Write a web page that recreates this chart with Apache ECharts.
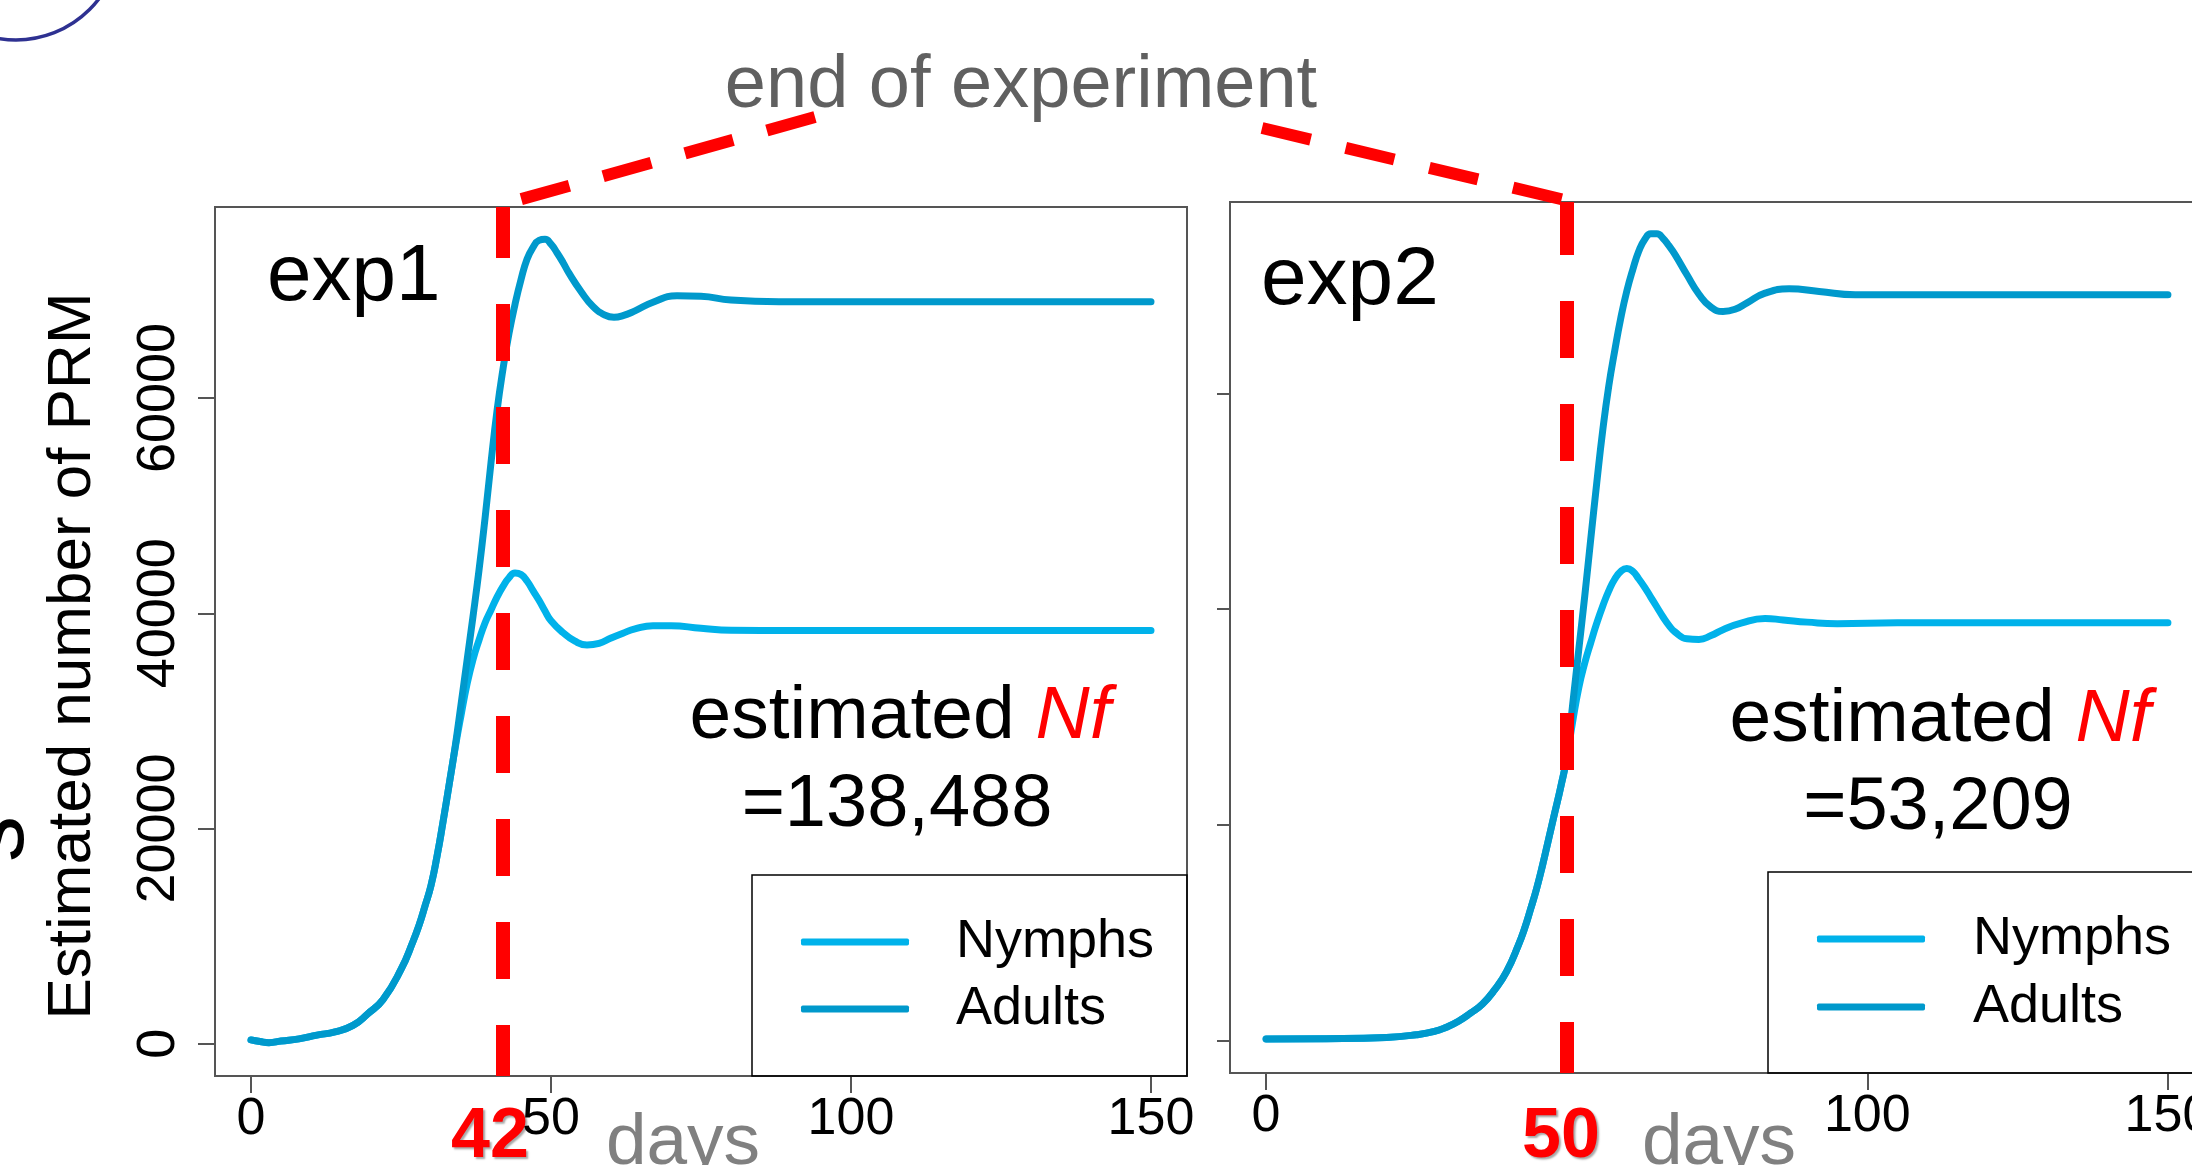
<!doctype html>
<html>
<head>
<meta charset="utf-8">
<script src="https://cdn.jsdelivr.net/npm/echarts@6/dist/echarts.min.js"></script>
<style>
  html, body { margin:0; padding:0; background:#fff; }
  #main { width:2192px; height:1165px; }
</style>
</head>
<body>
<div id="main"></div>
<script>
var FONT = '"Liberation Sans", Arial, Helvetica, sans-serif';

// [day, estimated number]
var exp1Nymphs = [[0,350],[1.5,200],[3,100],[5,250],[8,450],[11,800],[14,1100],[17,1700],[19.5,2800],[22,4100],[25,6900],[27,9500],[28,11000],[29,12800],[30,14700],[31,17400],[32,20600],[33,24000],
  [34,27400],[35,30500],[36,33400],[37,35700],[38,37500],[39,39100],[40,40300],[41,41500],[42,42500],[43,43300],[44,43750],[45,43600],[46,43000],[47,42100],[48,41200],[49,40200],[50,39300],[52,38200],[54,37400],[56,37050],[58,37200],[60,37700],[62,38150],[64,38550],[67,38850],[70,38850],[75,38600],[80,38420],[90,38400],[150,38400]];
var exp1Adults = [[0,350],[1.5,200],[3,100],[5,250],[8,450],[11,800],[14,1100],[17,1700],[19.5,2800],[22,4100],[25,6900],[27,9500],[28,11000],[29,12800],[30,14700],[31,17400],[32,20600],[33,24000],
  [34,27500],[35,31500],[36,35600],[37,39700],[38,44000],[39,48800],[40,54000],[41,58800],[42,62700],[43,66000],[44,68700],[45,71000],[46,72900],[47,74000],[48,74650],[49,74750],[50,74300],[51,73500],[52,72600],[53,71600],[55,69900],[57,68500],[59,67700],[60.5,67500],[62,67650],[64,68100],[67,68900],[71,69500],[75,69450],[80,69100],[88,68950],[100,68950],[150,68950]];
var exp2Nymphs = [[0,150],[10,180],[20,300],[25,550],[28,850],[30,1250],[32,1800],[34,2550],[36,3400],[38,4700],[40,6400],[42,8900],[43,10400],[44,12200],[45,14100],[46,16300],[47,18700],[48,21100],[49,23500],[50,26200],
  [51,29600],[52,32700],[53,35000],[54,36900],[55,38700],[56,40300],[57,41700],[58,42800],[59,43500],[60,43780],[61,43500],[62,42800],[63,42000],[64,41100],[65,40200],[66,39300],[67,38500],[68,37900],[70,37250],[72,37200],[74,37550],[76,38100],[79,38700],[83,39140],[86,39000],[90,38800],[95,38650],[105,38740],[150,38740]];
var exp2Adults = [[0,150],[10,180],[20,300],[25,550],[28,850],[30,1250],[32,1800],[34,2550],[36,3400],[38,4700],[40,6400],[42,8900],[43,10400],[44,12200],[45,14100],[46,16300],[47,18700],[48,21100],[49,23500],[50,26200],
  [51,31200],[52,36200],[53,41200],[54,46500],[55,51700],[56,56600],[57,60700],[58,64000],[59,67000],[60,69500],[61,71500],[62,73200],[63,74300],[64,74800],[65,74800],[66,74400],[67,73700],[68,72900],[70,71000],[72,69200],[74,68000],[76,67600],[78,67800],[80,68400],[83,69300],[87,69700],[92,69450],[98,69150],[150,69150]];

var dayTicks1 = [0, 50, 100, 150];
var dayTicks2 = [0, 100, 150];
var countTicks = [0, 20000, 40000, 60000];
var endDays = [42, 50];
var expNames = ['exp1', 'exp2'];
var nfValues = ['=138,488', '=53,209'];

var nymphColor = '#00b2ea';
var adultColor = '#0099cc';
var tickStyle = { color: '#555', width: 2 };

var chart = echarts.init(document.getElementById('main'));

function dayAxis(idx, ticks) {
  return {
    type: 'value', gridIndex: idx, min: -6, max: 156,
    axisLine: { show: false, onZero: false }, splitLine: { show: false },
    axisTick: { show: true, length: 17, customValues: ticks, lineStyle: tickStyle },
    axisLabel: { show: true, customValues: ticks, margin: 18, fontSize: 52, color: '#000', fontFamily: FONT,
      formatter: function (v) { return String(v); } }
  };
}

function countAxis(idx, showLabels) {
  return {
    type: 'value', gridIndex: idx, min: -3000, max: 77750,
    axisLine: { show: false, onZero: false }, splitLine: { show: false },
    axisTick: { show: true, length: showLabels ? 17 : 13, customValues: countTicks, lineStyle: tickStyle },
    axisLabel: { show: showLabels, customValues: countTicks, rotate: 90, margin: 29, fontSize: 54, color: '#000', fontFamily: FONT,
      formatter: function (v) { return String(v); } }
  };
}

function curve(name, data, idx, color, endDay) {
  var s = {
    name: name, type: 'line', xAxisIndex: idx, yAxisIndex: idx, data: data,
    showSymbol: false, symbol: 'none', smooth: 0.5,
    lineStyle: { color: color, width: 7, cap: 'round', join: 'round' },
    itemStyle: { color: color }, emphasis: { disabled: true }
  };
  if (endDay != null) {
    s.markLine = {
      silent: true, symbol: ['none', 'none'], label: { show: false },
      lineStyle: { color: '#ff0000', width: 14, type: [57, 46], dashOffset: 6, cap: 'butt' },
      data: [{ xAxis: endDay }]
    };
  }
  return s;
}

function legendAt(left, top, gap, pad) {
  return {
    data: ['Nymphs', 'Adults'], orient: 'vertical', left: left, top: top,
    padding: 0, itemGap: gap, itemWidth: 108, itemHeight: 7, icon: 'roundRect',
    selectedMode: false,
    textStyle: { fontSize: 54, lineHeight: 60, color: '#000', fontFamily: FONT, padding: [0, 0, 0, pad] }
  };
}

chart.setOption({
  animation: false,
  backgroundColor: '#fff',
  grid: [
    { left: 215, top: 207, width: 972, height: 869, show: true, borderColor: '#555', borderWidth: 2,
      backgroundColor: 'transparent', outerBoundsMode: 'none', containLabel: false },
    { left: 1230, top: 202, width: 974, height: 871, show: true, borderColor: '#555', borderWidth: 2,
      backgroundColor: 'transparent', outerBoundsMode: 'none', containLabel: false }
  ],
  xAxis: [dayAxis(0, dayTicks1), dayAxis(1, dayTicks2)],
  yAxis: [countAxis(0, true), countAxis(1, false)],
  legend: [legendAt(801, 912, 7, 42), legendAt(1817, 909, 8, 43)],
  series: [
    curve('Nymphs', exp1Nymphs, 0, nymphColor),
    curve('Adults', exp1Adults, 0, adultColor, endDays[0]),
    curve('Nymphs', exp2Nymphs, 1, nymphColor),
    curve('Adults', exp2Adults, 1, adultColor, endDays[1])
  ]
});

function txt(x, y, text, size, color, extra) {
  var st = { text: text, fontSize: size, fontFamily: FONT, fill: color,
    align: 'center', textAlign: 'center', verticalAlign: 'middle', textVerticalAlign: 'middle' };
  var el = { type: 'text', x: x, y: y, z: 100, style: st, silent: true };
  for (var k in extra) {
    if (k === 'rotation') el.rotation = extra[k]; else st[k] = extra[k];
  }
  return el;
}

function nfText(x, y) {
  return txt(x, y, 'estimated {nf|Nf}', 75, '#000', {
    rich: { nf: { fill: '#ff0000', fontStyle: 'italic', fontSize: 75, fontFamily: FONT } }
  });
}

// top ends of the red end-of-experiment lines
var top1 = chart.convertToPixel({ gridIndex: 0 }, [endDays[0], 77750]);
var top2 = chart.convertToPixel({ gridIndex: 1 }, [endDays[1], 77750]);
var redBold = { fontWeight: 'bold', textShadowColor: 'rgba(0,0,0,0.35)', textShadowBlur: 2, textShadowOffsetX: 2, textShadowOffsetY: 2 };

chart.setOption({
  graphic: [
    { type: 'arc', silent: true, shape: { cx: 16, cy: -64, r: 104, startAngle: 0, endAngle: Math.PI },
      style: { stroke: '#2e3191', lineWidth: 3.5, fill: 'none' } },
    txt(-2, 839, 's', 92, '#000', { rotation: Math.PI / 2 }),
    txt(73, 656, 'Estimated number of PRM', 62, '#000', { rotation: Math.PI / 2 }),
    txt(1021, 87, 'end of experiment', 74, '#606060', {}),
    { type: 'polyline', z: 90, silent: true, shape: { points: [[815, 117], [top1[0] + 8, top1[1] - 5]] },
      style: { stroke: '#ff0000', lineWidth: 12, lineDash: [50, 35], fill: 'none' } },
    { type: 'polyline', z: 90, silent: true, shape: { points: [[1262, 128], [top2[0] - 2, top2[1] - 2]] },
      style: { stroke: '#ff0000', lineWidth: 12, lineDash: [50, 36], fill: 'none' } },
    { type: 'rect', z: 80, silent: true, shape: { x: 752, y: 875, width: 435, height: 201 },
      style: { stroke: '#000', lineWidth: 1.5, fill: 'none' } },
    { type: 'rect', z: 80, silent: true, shape: { x: 1768, y: 872, width: 480, height: 201 },
      style: { stroke: '#000', lineWidth: 1.5, fill: 'none' } },
    txt(267, 278, expNames[0], 80, '#000', { align: 'left', textAlign: 'left' }),
    txt(1261, 281, expNames[1], 82, '#000', { align: 'left', textAlign: 'left' }),
    nfText(900, 717),
    txt(897, 806, nfValues[0], 74, '#000', {}),
    nfText(1940, 720),
    txt(1938, 809, nfValues[1], 74, '#000', {}),
    txt(683, 1144, 'days', 73, '#808080', {}),
    txt(1719, 1144, 'days', 73, '#808080', {}),
    txt(490, 1138, String(endDays[0]), 70, '#ff0000', redBold),
    txt(1561, 1138, String(endDays[1]), 70, '#ff0000', redBold)
  ]
});
</script>
</body>
</html>
